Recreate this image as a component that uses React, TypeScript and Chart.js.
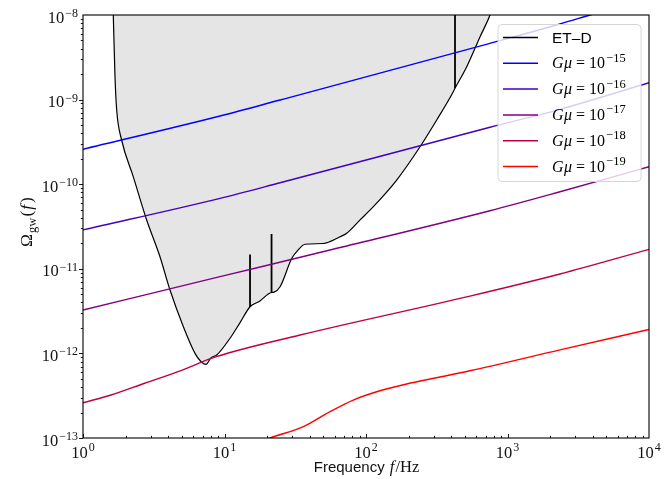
import React, { useEffect, useRef } from "react";
import { Chart, registerables } from "chart.js";

Chart.register(...registerables);

// ET-D sensitivity curve (Hz, Omega_gw)
const etdFreq = [
  1.603, 1.637, 1.683, 1.73, 1.875, 2.265, 2.818, 3.5, 4.12, 5.12, 6.19, 6.76, 7.4, 8.04, 8.81,
  10.94, 12.88, 15.15, 17.8, 20.4, 21.5, 22.4, 24.7, 29.9, 33.0,
  37.1, 49.9, 65.5, 73.1, 90.8, 112.7, 164.8, 241, 316, 414, 425.6, 515, 640, 752, 891,
];
const etdOmega = [
  3.16e-8, 1.0e-8, 1.87e-9, 7.53e-10, 3.33e-10, 1.23e-10, 3.78e-11, 1.39e-11, 5.61e-12, 2.07e-12,
  1.0e-12, 8.13e-13, 7.41e-13, 8.91e-13, 9.57e-13, 1.51e-12, 2.31e-12, 3.56e-12,
  4.17e-12, 5.04e-12, 5.25e-12, 5.3e-12, 6.14e-12, 1.33e-11, 1.66e-11, 1.95e-11,
  1.99e-11, 2.39e-11, 2.63e-11, 3.78e-11, 5.42e-11, 1.12e-10, 2.77e-10, 5.74e-10, 1.24e-9, 1.36e-9,
  2.45e-9, 5.55e-9, 1.0e-8, 2.5e-8,
];
// ET-D narrow resonance spikes
const etdSpikeFreq = [15.15, 21.5, 425.6];
const etdSpikeBase = [3.56e-12, 5.25e-12, 1.36e-9];
const etdSpikeTop = [1.48e-11, 2.58e-11, 1.0e-7];

// Cosmic string spectra
const gmu15Freq = [1, 9.3, 24.7, 752, 2350, 3830, 10000];
const gmu15Omega = [2.59e-10, 6.4e-10, 9.89e-10, 4.62e-9, 7.83e-9, 1.0e-8, 1.6e-8];

const gmu16Freq = [1, 9.3, 24.7, 752, 2350, 10000];
const gmu16Omega = [2.88e-11, 6.81e-11, 1.04e-10, 4.71e-10, 7.67e-10, 1.58e-9];

const gmu17Freq = [1, 9.3, 58.5, 752, 2350, 10000];
const gmu17Omega = [3.26e-12, 8.07e-12, 1.7e-11, 4.86e-11, 8.15e-11, 1.61e-10];

const gmu18Freq = [1, 1.58, 2.73, 4.69, 8.75, 34.2, 543, 2350, 10000];
const gmu18Omega = [2.61e-13, 3.22e-13, 4.44e-13, 6.08e-13, 9.14e-13, 1.65e-12, 4.76e-12, 8.69e-12, 1.7e-11];

const gmu19Freq = [14.1, 21.0, 36.1, 55.7, 81.3, 119, 194, 316, 543, 2350, 10000];
const gmu19Omega = [7.59e-14, 1.0e-13, 1.36e-13, 2.05e-13, 2.81e-13, 3.52e-13, 4.35e-13, 5.16e-13, 6.24e-13, 1.1e-12, 1.92e-12];

const gmuExponents = [-15, -16, -17, -18, -19];
const gmuColors = ["#0000ff", "#4000bf", "#800080", "#bf0040", "#ff0000"];
const etdLabel = "ET\u2013D";
const etdColor = "#000000";
const etdFill = "rgb(229,229,229)";

const xTickExps = [0, 1, 2, 3, 4];
const yTickExps = [-13, -12, -11, -10, -9, -8];

const SERIF = "'Liberation Serif', 'DejaVu Serif', serif";
const SANS = "'Liberation Sans', Arial, sans-serif";

function expText(e: number) {
  return e < 0 ? "\u2212" + String(-e) : String(e);
}

function drawPow(
  ctx: CanvasRenderingContext2D,
  x: number,
  y: number,
  e: number,
  align: "left" | "center" | "right",
  baseSize: number,
  expSize: number,
  rise: number
) {
  const baseFont = `${baseSize}px ${SERIF}`;
  const expFont = `${expSize}px ${SERIF}`;
  const es = expText(e);
  ctx.font = baseFont;
  const w1 = ctx.measureText("10").width;
  ctx.font = expFont;
  const w2 = ctx.measureText(es).width;
  const total = w1 + 1 + w2;
  const x0 = align === "center" ? x - total / 2 : align === "right" ? x - total : x;
  ctx.textAlign = "left";
  ctx.textBaseline = "alphabetic";
  ctx.font = baseFont;
  ctx.fillText("10", x0, y);
  ctx.font = expFont;
  ctx.fillText(es, x0 + w1 + 1, y - rise);
  return total;
}

const decorPlugin = {
  id: "decor",
  afterDatasetsDraw(chart: any) {
    const ctx: CanvasRenderingContext2D = chart.ctx;
    const a = chart.chartArea;
    const xs = chart.scales.x;
    const ys = chart.scales.y;
    ctx.save();
    ctx.fillStyle = "#000";
    ctx.strokeStyle = "#000";

    // frame
    ctx.lineWidth = 1.1;
    ctx.strokeRect(a.left, a.top, a.right - a.left, a.bottom - a.top);

    // x ticks (inward)
    ctx.lineWidth = 0.9;
    for (let d = 0; d < 4; d++) {
      for (let k = 1; k <= 9; k++) {
        const v = k * Math.pow(10, d);
        const px = Math.round(xs.getPixelForValue(v)) + 0.5;
        const len = k === 1 ? 4 : 2.2;
        ctx.beginPath();
        ctx.moveTo(px, a.bottom);
        ctx.lineTo(px, a.bottom - len);
        ctx.stroke();
      }
    }
    // y ticks (outward)
    for (let d = -13; d < -8; d++) {
      for (let k = 1; k <= 9; k++) {
        const v = k * Math.pow(10, d);
        const py = Math.round(ys.getPixelForValue(v)) + 0.5;
        const len = k === 1 ? 4 : 2.2;
        ctx.beginPath();
        ctx.moveTo(a.left, py);
        ctx.lineTo(a.left - len, py);
        ctx.stroke();
      }
    }

    // tick labels
    ctx.fillStyle = "#111";
    for (const e of xTickExps) {
      const px = xs.getPixelForValue(Math.pow(10, e));
      drawPow(ctx, px, a.bottom + 19.5, e, "center", 16.5, 12, 7);
    }
    for (const e of yTickExps) {
      const py = ys.getPixelForValue(Math.pow(10, e));
      drawPow(ctx, a.left - 5, py + 7.5, e, "right", 16.5, 12, 5.5);
    }

    // x title
    {
      const y = 472;
      ctx.textBaseline = "alphabetic";
      ctx.textAlign = "left";
      const f1 = `15px ${SANS}`;
      const f2 = `italic 16.5px ${SERIF}`;
      const f3 = `16.5px ${SERIF}`;
      ctx.font = f1;
      const w1 = ctx.measureText("Frequency ").width;
      ctx.font = f2;
      const w2 = ctx.measureText("f").width + 2;
      ctx.font = f3;
      const w3 = ctx.measureText("/Hz").width;
      const total = w1 + w2 + w3;
      let x = 366.5 - total / 2;
      ctx.font = f1;
      ctx.fillText("Frequency ", x, y);
      x += w1;
      ctx.font = f2;
      ctx.fillText("f", x + 1, y);
      x += w2;
      ctx.font = f3;
      ctx.fillText("/Hz", x, y);
    }

    // y title (rotated)
    {
      ctx.save();
      ctx.translate(32, 222);
      ctx.rotate(-Math.PI / 2);
      ctx.textBaseline = "alphabetic";
      ctx.textAlign = "left";
      const fO = `17.5px ${SERIF}`;
      const fs = `12.5px ${SERIF}`;
      const fi = `italic 17.5px ${SERIF}`;
      ctx.font = fO;
      const wO = ctx.measureText("\u03A9").width;
      ctx.font = fs;
      const ws = ctx.measureText("gw").width;
      ctx.font = fO;
      const wp = ctx.measureText("(").width;
      ctx.font = fi;
      const wf = ctx.measureText("f").width + 3;
      const total = wO + 1 + ws + 1 + wp + wf + wp;
      let x = -total / 2;
      ctx.font = fO;
      ctx.fillText("\u03A9", x, 0);
      x += wO + 1;
      ctx.font = fs;
      ctx.fillText("gw", x, 4);
      x += ws + 1;
      ctx.font = fO;
      ctx.fillText("(", x, 0);
      x += wp;
      ctx.font = fi;
      ctx.fillText("f", x + 1, 0);
      x += wf;
      ctx.font = fO;
      ctx.fillText(")", x, 0);
      ctx.restore();
    }

    // legend
    {
      const lx = 498,
        ly = 24.5,
        lw = 143,
        lh = 157,
        r = 4;
      ctx.beginPath();
      ctx.moveTo(lx + r, ly);
      ctx.lineTo(lx + lw - r, ly);
      ctx.arcTo(lx + lw, ly, lx + lw, ly + r, r);
      ctx.lineTo(lx + lw, ly + lh - r);
      ctx.arcTo(lx + lw, ly + lh, lx + lw - r, ly + lh, r);
      ctx.lineTo(lx + r, ly + lh);
      ctx.arcTo(lx, ly + lh, lx, ly + lh - r, r);
      ctx.lineTo(lx, ly + r);
      ctx.arcTo(lx, ly, lx + r, ly, r);
      ctx.closePath();
      ctx.fillStyle = "rgba(255,255,255,0.8)";
      ctx.fill();
      ctx.strokeStyle = "#d6d6d6";
      ctx.lineWidth = 1;
      ctx.stroke();

      const rows = [{ color: etdColor, label: null as number | null }].concat(
        gmuExponents.map((e, i) => ({ color: gmuColors[i], label: e }))
      );
      rows.forEach((row, i) => {
        const cy = 37.5 + i * 25.8;
        ctx.strokeStyle = row.color;
        ctx.lineWidth = 1.5;
        ctx.beginPath();
        ctx.moveTo(503, cy);
        ctx.lineTo(538, cy);
        ctx.stroke();
        ctx.fillStyle = "#000";
        ctx.textAlign = "left";
        ctx.textBaseline = "alphabetic";
        if (row.label === null) {
          ctx.font = `15.5px ${SANS}`;
          ctx.fillText(etdLabel, 552, cy + 5.5);
        } else {
          const by = cy + 5;
          let x = 552;
          ctx.font = `italic 16px ${SERIF}`;
          ctx.fillText("G", x, by);
          x += ctx.measureText("G").width + 0.5;
          ctx.fillText("\u03BC", x, by);
          x += ctx.measureText("\u03BC").width + 4;
          ctx.font = `16px ${SERIF}`;
          ctx.fillText("=", x, by);
          x += ctx.measureText("=").width + 4;
          drawPow(ctx, x, by, row.label, "left", 16, 12.5, 6.5);
        }
      });
    }
    ctx.restore();
  },
};

function pts(f: number[], o: number[]) {
  return f.map((v, i) => ({ x: v, y: o[i] }));
}

export default function App() {
  const ref = useRef<HTMLCanvasElement | null>(null);
  useEffect(() => {
    if (!ref.current) return;
    const series = [
      [gmu15Freq, gmu15Omega],
      [gmu16Freq, gmu16Omega],
      [gmu17Freq, gmu17Omega],
      [gmu18Freq, gmu18Omega],
      [gmu19Freq, gmu19Omega],
    ];
    const datasets: any[] = series.map(([f, o], i) => ({
      label: "Gmu=1e" + gmuExponents[i],
      data: pts(f, o),
      borderColor: gmuColors[i],
      borderWidth: 1.4,
      pointRadius: 0,
      fill: false,
      cubicInterpolationMode: "monotone",
    }));
    etdSpikeFreq.forEach((f, i) => {
      datasets.push({
        label: etdLabel + " spike",
        data: [
          { x: f, y: etdSpikeBase[i] },
          { x: f, y: etdSpikeTop[i] },
        ],
        borderColor: etdColor,
        borderWidth: 1.8,
        pointRadius: 0,
        fill: false,
      });
    });
    datasets.push({
      label: etdLabel,
      data: pts(etdFreq, etdOmega),
      borderColor: etdColor,
      backgroundColor: etdFill,
      borderWidth: 1.2,
      pointRadius: 0,
      fill: "end",
      cubicInterpolationMode: "monotone",
    });
    const chart = new Chart(ref.current, {
      type: "line",
      data: { datasets },
      options: {
        animation: false,
        responsive: true,
        maintainAspectRatio: false,
        devicePixelRatio: 1,
        layout: { padding: { left: 83, right: 18, top: 15, bottom: 41 } },
        scales: {
          x: { type: "logarithmic", min: 1, max: 10000, display: false },
          y: { type: "logarithmic", min: 1e-13, max: 1e-8, display: false },
        },
        plugins: { legend: { display: false }, tooltip: { enabled: false } },
      },
      plugins: [decorPlugin],
    } as any);
    return () => chart.destroy();
  }, []);
  return (
    <div style={{ position: "absolute", left: 0, top: 0, width: 667, height: 479, background: "#fff" }}>
      <canvas ref={ref} />
    </div>
  );
}
